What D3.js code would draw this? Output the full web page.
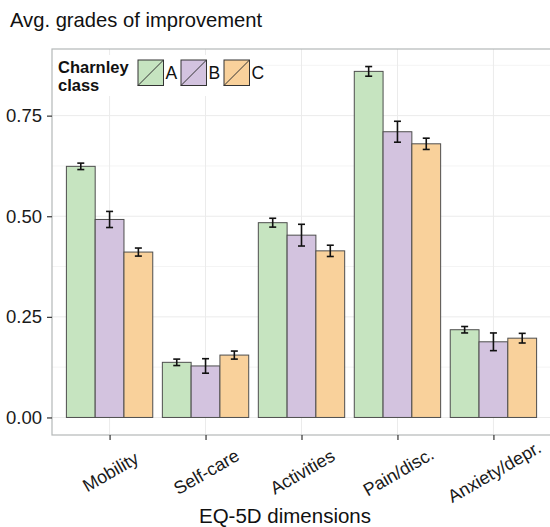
<!DOCTYPE html>
<html>
<head>
<meta charset="utf-8">
<script src="https://cdn.jsdelivr.net/npm/d3@7"></script>
<style>
  html, body { margin: 0; padding: 0; background: #fff; }
  svg { display: block; font-family: "Liberation Sans", Arial, sans-serif; }
</style>
</head>
<body>
<svg id="chart" width="550" height="527"></svg>
<script>
// EQ-5D dimensions and Charnley classes
const dimensions = ["Mobility", "Self-care", "Activities", "Pain/disc.", "Anxiety/depr."];
const classes = ["A", "B", "C"];
const classColors = ["#c6e4c0", "#d3c3df", "#f9d19b"];

// Average grades of improvement per class (one array per class, in dimension order)
const gradeA = [0.624, 0.137, 0.484, 0.860, 0.218];
const gradeB = [0.492, 0.128, 0.453, 0.710, 0.188];
const gradeC = [0.411, 0.155, 0.414, 0.680, 0.197];

// Half-widths of the error bars
const errA = [0.008, 0.008, 0.011, 0.012, 0.008];
const errB = [0.020, 0.018, 0.027, 0.026, 0.022];
const errC = [0.010, 0.010, 0.014, 0.014, 0.012];

const yTicks = [0, 0.25, 0.5, 0.75];
const yMinor = [0.125, 0.375, 0.625, 0.875];

const values = [gradeA, gradeB, gradeC];
const errors = [errA, errB, errC];
const rows = [];
dimensions.forEach((d, i) => classes.forEach((c, k) => {
  rows.push({ dim: d, cls: c, k, v: values[k][i], e: errors[k][i] });
}));

const svg = d3.select("#chart");

// Panel geometry
const panel = { left: 52, top: 49, width: 499, height: 386 };
const step = panel.width / (dimensions.length - 1 + 1.2);

const x = d3.scalePoint()
  .domain(dimensions)
  .range([panel.left + 0.6 * step, panel.left + panel.width - 0.6 * step]);

const inner = d3.scaleBand()
  .domain(classes)
  .range([-0.45 * step, 0.45 * step]);

const yMax = d3.max(rows, r => r.v + r.e);
const pad = 0.05 * yMax;
const y = d3.scaleLinear()
  .domain([-pad, yMax + pad])
  .range([panel.top + panel.height, panel.top]);

const color = d3.scaleOrdinal().domain(classes).range(classColors);

// Panel background and grid
const g = svg.append("g");
g.append("rect")
  .attr("x", panel.left).attr("y", panel.top)
  .attr("width", panel.width).attr("height", panel.height)
  .attr("fill", "#fff");

g.selectAll("line.minor").data(yMinor).join("line")
  .attr("class", "minor")
  .attr("x1", panel.left).attr("x2", panel.left + panel.width)
  .attr("y1", d => y(d)).attr("y2", d => y(d))
  .attr("stroke", "#f4f4f4").attr("stroke-width", 1);

g.selectAll("line.majorY").data(yTicks).join("line")
  .attr("class", "majorY")
  .attr("x1", panel.left).attr("x2", panel.left + panel.width)
  .attr("y1", d => y(d)).attr("y2", d => y(d))
  .attr("stroke", "#ebebeb").attr("stroke-width", 1);

g.selectAll("line.majorX").data(dimensions).join("line")
  .attr("class", "majorX")
  .attr("x1", d => x(d)).attr("x2", d => x(d))
  .attr("y1", panel.top).attr("y2", panel.top + panel.height)
  .attr("stroke", "#ebebeb").attr("stroke-width", 1);

// Bars
g.selectAll("rect.bar").data(rows).join("rect")
  .attr("class", "bar")
  .attr("x", d => x(d.dim) + inner(d.cls))
  .attr("width", inner.bandwidth())
  .attr("y", d => y(d.v))
  .attr("height", d => y(0) - y(d.v))
  .attr("fill", d => color(d.cls))
  .attr("stroke", "#4d4d4d").attr("stroke-width", 1);

// Error bars
const capHalf = 3.5;
const eb = g.selectAll("g.err").data(rows).join("g").attr("class", "err")
  .attr("stroke", "#111").attr("stroke-width", 1.6);
eb.append("line")
  .attr("x1", d => x(d.dim) + inner(d.cls) + inner.bandwidth() / 2)
  .attr("x2", d => x(d.dim) + inner(d.cls) + inner.bandwidth() / 2)
  .attr("y1", d => y(d.v - d.e)).attr("y2", d => y(d.v + d.e));
eb.append("line")
  .attr("x1", d => x(d.dim) + inner(d.cls) + inner.bandwidth() / 2 - capHalf)
  .attr("x2", d => x(d.dim) + inner(d.cls) + inner.bandwidth() / 2 + capHalf)
  .attr("y1", d => y(d.v + d.e)).attr("y2", d => y(d.v + d.e));
eb.append("line")
  .attr("x1", d => x(d.dim) + inner(d.cls) + inner.bandwidth() / 2 - capHalf)
  .attr("x2", d => x(d.dim) + inner(d.cls) + inner.bandwidth() / 2 + capHalf)
  .attr("y1", d => y(d.v - d.e)).attr("y2", d => y(d.v - d.e));

// Panel border
g.append("rect")
  .attr("x", panel.left).attr("y", panel.top)
  .attr("width", panel.width).attr("height", panel.height)
  .attr("fill", "none").attr("stroke", "#b4b8b8").attr("stroke-width", 1.2);

// Y axis
const yAxis = svg.append("g")
  .attr("transform", `translate(${panel.left},0)`)
  .call(d3.axisLeft(y).tickValues(yTicks).tickFormat(d3.format(".2f")).tickSize(5).tickPadding(5));
yAxis.select(".domain").remove();
yAxis.selectAll(".tick line").attr("stroke", "#333").attr("stroke-width", 1.2);
yAxis.selectAll(".tick text").attr("fill", "#1a1a1a")
  .style("font-size", "18.5px").style("font-family", "'Liberation Sans', Arial, sans-serif");

// X axis
const xAxis = svg.append("g")
  .attr("transform", `translate(0,${panel.top + panel.height})`)
  .call(d3.axisBottom(x).tickSize(5).tickFormat(""));
xAxis.select(".domain").remove();
xAxis.selectAll(".tick line").attr("stroke", "#333").attr("stroke-width", 1.2);

svg.append("g").selectAll("text").data(dimensions).join("text")
  .attr("transform", d => `translate(${x(d) + 1},472) rotate(-30)`)
  .attr("text-anchor", "middle")
  .attr("dominant-baseline", "central")
  .attr("fill", "#1a1a1a")
  .style("font-size", "18px")
  .text(d => d);

// Axis title and chart title
svg.append("text")
  .attr("x", 285).attr("y", 523)
  .attr("text-anchor", "middle")
  .attr("fill", "#111")
  .style("font-size", "20.5px")
  .text("EQ-5D dimensions");

svg.append("text")
  .attr("x", 10).attr("y", 27)
  .attr("fill", "#111")
  .style("font-size", "20.2px")
  .text("Avg. grades of improvement");

// Legend inside the panel
const legend = svg.append("g");
legend.append("rect")
  .attr("x", panel.left + 1).attr("y", 55)
  .attr("width", 205).attr("height", 41)
  .attr("fill", "#fff");
legend.append("text")
  .attr("x", 58).attr("y", 73)
  .style("font-size", "16.5px").style("font-weight", "bold").attr("fill", "#111")
  .text("Charnley");
legend.append("text")
  .attr("x", 58).attr("y", 91)
  .style("font-size", "16.5px").style("font-weight", "bold").attr("fill", "#111")
  .text("class");

const keySize = 25.5;
const keys = legend.selectAll("g.key").data(classes).join("g")
  .attr("class", "key")
  .attr("transform", (d, i) => `translate(${138 + i * 43},60)`);
keys.append("rect")
  .attr("width", keySize).attr("height", keySize)
  .attr("fill", d => color(d))
  .attr("stroke", "#333").attr("stroke-width", 1);
keys.append("line")
  .attr("x1", 0).attr("y1", keySize).attr("x2", keySize).attr("y2", 0)
  .attr("stroke", "#333").attr("stroke-width", 1);
keys.append("text")
  .attr("x", keySize + 2).attr("y", keySize / 2 + 6.5)
  .style("font-size", "17.5px").attr("fill", "#111")
  .text(d => d);
</script>
</body>
</html>
